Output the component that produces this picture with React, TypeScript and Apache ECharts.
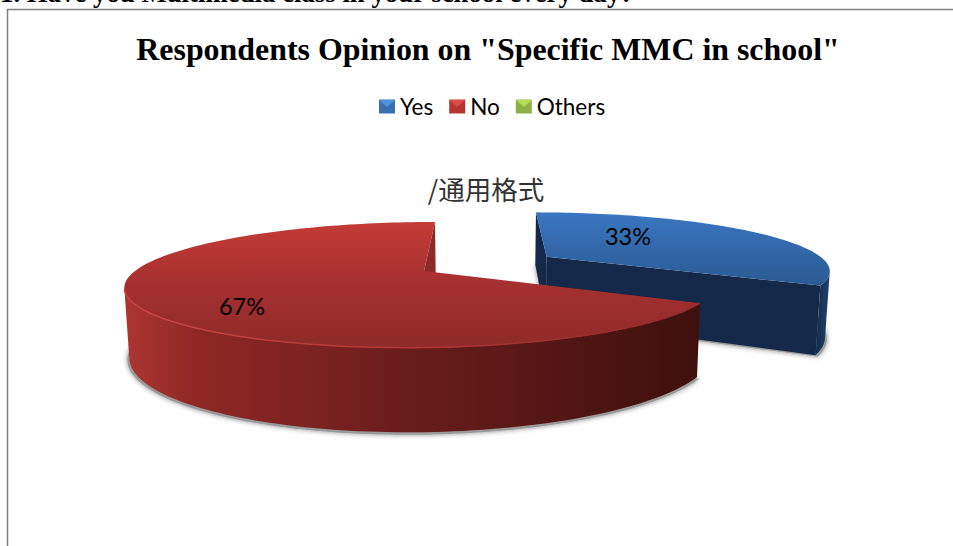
import React, { useEffect, useRef } from "react";
import * as echarts from "echarts";

// Survey figures
const categories = ["Yes", "No", "Others"];
const shares = [33, 67, 0];
const headerLine = "1. Have you Multimedia class in your school every day?";
const chartTitle = 'Respondents Opinion on "Specific MMC in school"';
const formatCaption = "/通用格式";

// Perspective camera for the tilted pie
const VANISH_X = 485;
const BASE_Y = 271;
const TILT = 59.8;
const PERSPECTIVE = 0.22;
const RADIUS = 289;
const THICKNESS = 66;
const TAPER = 0.014;

const project = (X: number, V: number, z = 0): [number, number] => {
  const s = 1 / (1 - PERSPECTIVE * V);
  return [VANISH_X + X * s * (1 - TAPER * z), BASE_Y + TILT * V * s + THICKNESS * z * s];
};

const hgrad = (stops: [number, string][]) =>
  new echarts.graphic.LinearGradient(0, 0, 1, 0, stops.map(([offset, color]) => ({ offset, color })));
const vgrad = (stops: [number, string][]) =>
  new echarts.graphic.LinearGradient(0, 0, 0, 1, stops.map(([offset, color]) => ({ offset, color })));

// Per-slice look: where the slice sits on the ground plane and how it is shaded
const sliceLook: any[] = [
  {
    X: 65,
    V: -0.25,
    legend: "#3a70b2",
    top: () => vgrad([[0, "#3a76c0"], [1, "#2a5a92"]]),
    wall: () => hgrad([[0, "#142a48"], [1, "#1f4470"]]),
    cut: "#14294a",
    label: [628, 236],
  },
  {
    X: -61,
    V: 0,
    legend: "#b43532",
    top: () => vgrad([[0, "#c43b36"], [0.5, "#a53030"], [1, "#8e2b28"]]),
    wall: () =>
      hgrad([
        [0, "#ad3532"],
        [0.13, "#8e2724"],
        [0.31, "#7d2321"],
        [0.48, "#6a1d1b"],
        [0.66, "#5c1917"],
        [0.83, "#4b1411"],
        [1, "#3e100d"],
      ]),
    cut: "#8c2a27",
    rim: () => hgrad([[0, "#cb4540"], [0.6, "#a83330"], [1, "#8e2b28"]]),
    label: [242, 306],
  },
  { X: 0, V: 0, legend: "#8eb044", top: () => "#8eb044", wall: () => "#6d8733", cut: "#6d8733", label: [0, 0] },
];

const total = shares.reduce((a, b) => a + b, 0);
const startAngle = (i: number) => (shares.slice(0, i).reduce((a, b) => a + b, 0) / total) * 360;

const renderSlice = (index: number) => () => {
  const share = shares[index];
  if (!share) return { type: "group", children: [] };
  const look = sliceLook[index];
  const a0 = startAngle(index);
  const a1 = a0 + (share / total) * 360;
  const rad = (a: number) => (a * Math.PI) / 180;
  const rimPoint = (a: number, z = 0, r = RADIUS) =>
    project(look.X + r * Math.sin(rad(a)), look.V - (r / RADIUS) * Math.cos(rad(a)), z);
  const camV = 1 / PERSPECTIVE;

  const angles: number[] = [];
  for (let a = a0; a < a1; a += 1.5) angles.push(a);
  angles.push(a1);

  // Outer wall: keep only the part of the rim that faces the camera
  const facing = angles.filter((a) => {
    const px = look.X + RADIUS * Math.sin(rad(a));
    const pv = look.V - Math.cos(rad(a));
    return (Math.sin(rad(a)) / RADIUS) * -px + -Math.cos(rad(a)) * (camV - pv) > 0;
  });

  const apex = project(look.X, look.V);
  const apexLow = project(look.X, look.V, 1);
  const cutFace = (a: number, sign: number) => {
    const nx = sign * Math.cos(rad(a));
    const nv = sign * RADIUS * Math.sin(rad(a));
    if (nx * -look.X + nv * (camV - look.V) <= 0) return null;
    return {
      type: "polygon",
      shape: { points: [apex, rimPoint(a), rimPoint(a, 1), apexLow] },
      style: { fill: look.cut },
    };
  };

  const footprint = [project(look.X, look.V, 1.02), ...angles.map((a) => rimPoint(a, 1.02, RADIUS + 2))];
  const surface = [apex, ...angles.map((a) => rimPoint(a))];
  const wall = [...facing.map((a) => rimPoint(a)), ...facing.slice().reverse().map((a) => rimPoint(a, 1))];

  const children: any[] = [
    {
      type: "polygon",
      shape: { points: footprint },
      style: { fill: "#9a9a9a", shadowBlur: 5, shadowColor: "rgba(0,0,0,0.45)" },
    },
    { type: "polygon", shape: { points: wall }, style: { fill: look.wall() } },
  ];
  [cutFace(a1, 1), cutFace(a0, -1)].forEach((f) => f && children.push(f));
  children.push({ type: "polygon", shape: { points: surface }, style: { fill: look.top() } });
  if (look.rim) {
    children.push({
      type: "polyline",
      shape: { points: facing.map((a) => rimPoint(a)) },
      style: { stroke: look.rim(), fill: "none", lineWidth: 1.5 },
    });
  }
  children.push({
    type: "text",
    x: look.label[0],
    y: look.label[1],
    style: {
      text: `${share}%`,
      font: "23.5px Lato",
      fill: "#000",
      align: "center",
      verticalAlign: "middle",
    },
  });
  return { type: "group", children };
};

// Small bevel on the legend swatches
const swatchX = [379, 449, 516];
const swatchBevel = ["#4f93dc", "#dc4a46", "#b4da58"];

export default function App() {
  const ref = useRef<HTMLDivElement>(null);
  useEffect(() => {
    const chart = echarts.init(ref.current!, undefined, { renderer: "svg" });
    chart.setOption({
      animation: false,
      backgroundColor: "#fff",
      title: {
        text: chartTitle,
        left: 483,
        top: 28,
        textAlign: "center",
        textStyle: { fontFamily: "Liberation Serif", fontWeight: "bold", fontSize: 31.9, color: "#000" },
      },
      legend: {
        data: categories,
        left: 379,
        top: 95,
        padding: 0,
        icon: "rect",
        itemWidth: 16,
        itemHeight: 14,
        itemGap: 16,
        textStyle: { fontFamily: "Lato", fontSize: 22.5, color: "#000" },
      },
      graphic: [
        {
          type: "rect",
          shape: { x: 7.5, y: 9.5, width: 1000, height: 600 },
          style: { fill: "none", stroke: "#808080", lineWidth: 1.5 },
          silent: true,
          z: -1,
        },
        {
          type: "text",
          x: 0,
          y: -21,
          style: { text: headerLine, font: "bold 26.8px 'Liberation Serif'", fill: "#000" },
        },
        {
          type: "text",
          x: 486,
          y: 188,
          style: {
            text: formatCaption,
            font: "26.5px 'Noto Sans CJK SC'",
            fill: "#333",
            align: "center",
            verticalAlign: "middle",
          },
        },
        ...swatchX.map((x, i) => ({
          type: "polygon",
          z: 20,
          shape: { points: [[x, 100], [x + 16, 100], [x + 8, 107]] },
          style: { fill: swatchBevel[i] },
        })),
      ],
      series: categories.map((name, i) => ({
        type: "custom",
        name,
        coordinateSystem: "none",
        data: [[shares[i]]],
        itemStyle: { color: sliceLook[i].legend },
        renderItem: renderSlice(i),
        silent: true,
      })),
    });
    return () => chart.dispose();
  }, []);
  return <div ref={ref} style={{ position: "fixed", left: 0, top: 0, width: 953, height: 546 }} />;
}
